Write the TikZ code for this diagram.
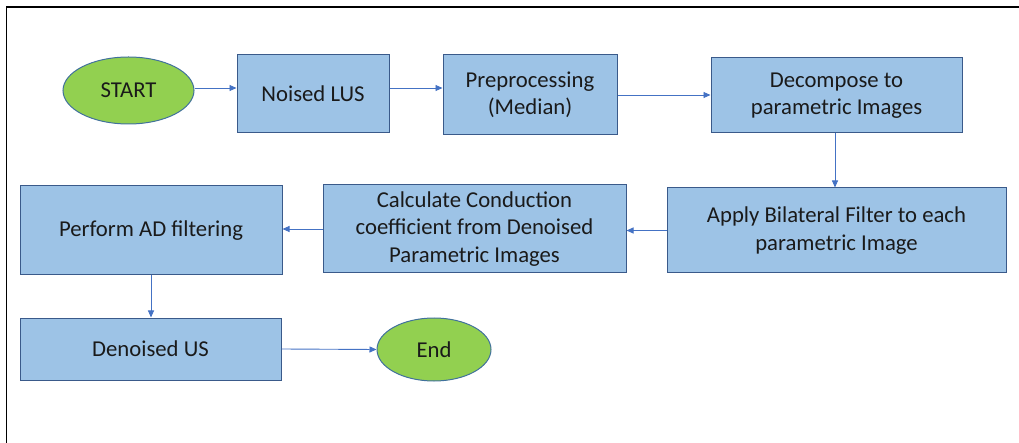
\documentclass[tikz,border=0pt]{standalone}
\usepackage{fontspec}
\setmainfont{Carlito}
\usetikzlibrary{arrows.meta,shapes.geometric}
\definecolor{boxfill}{HTML}{9DC3E6}
\definecolor{boxline}{HTML}{3A5A8A}
\definecolor{ovalfill}{HTML}{92D050}
\definecolor{ovalline}{HTML}{41719C}
\definecolor{arrowc}{HTML}{4472C4}
\definecolor{txt}{HTML}{1A1A1A}
\tikzset{
  stepbox/.style={draw=boxline, line width=1pt, fill=boxfill, rectangle, inner sep=0pt, align=center, text=txt,
    font=\fontsize{22.7}{27.5}\selectfont},
  oval/.style={draw=ovalline, line width=1pt, fill=ovalfill, ellipse, inner sep=0pt, text=txt,
    font=\fontsize{22.7}{27.5}\selectfont},
  arr/.style={draw=arrowc, line width=0.9pt, -{Triangle[length=7pt,width=6pt]}}
}
\begin{document}
\begin{tikzpicture}[x=1pt,y=-1pt]
\useasboundingbox (0,0) rectangle (1019,443);
\draw[black, line width=1.6pt] (6.5,443) -- (6.5,7) -- (1019,7);

\node[oval, minimum width=131pt, minimum height=67pt] (start) at (128.5,90.5) {START};
\node[stepbox, minimum width=152pt, minimum height=78pt] (noised) at (313,94) {Noised LUS};
\node[stepbox, minimum width=174pt, minimum height=80pt] (pre) at (530,95) {Preprocessing\\(Median)};
\node[stepbox, minimum width=251pt, minimum height=75pt] (dec) at (836.5,95.5) {Decompose to\\parametric Images};
\node[stepbox, minimum width=339pt, minimum height=85pt] (bil) at (836.5,230.5) {Apply Bilateral Filter to each\\parametric Image};
\node[stepbox, minimum width=303pt, minimum height=88pt] (calc) at (474.5,229) {Calculate Conduction\\coefficient from Denoised\\Parametric Images};
\node[stepbox, minimum width=262pt, minimum height=89pt] (perf) at (151,230.5) {Perform AD filtering};
\node[stepbox, minimum width=261pt, minimum height=62pt] (den) at (150.5,349) {Denoised US};
\node[oval, minimum width=114pt, minimum height=63pt] (end) at (434,349.5) {End};

\draw[arr] ([yshift=2.5pt]start.east) -- ([yshift=2.5pt]start.east -| noised.west);
\draw[arr] ([yshift=6pt]noised.east) -- ([yshift=6pt]noised.east -| pre.west);
\draw[arr] (pre.east) -- (pre.east -| dec.west);
\draw[arr] ([xshift=-1.5pt]dec.south) -- ([xshift=-1.5pt]dec.south |- bil.north);
\draw[arr] (bil.west) -- (bil.west -| calc.east);
\draw[arr] (calc.west) -- (calc.west -| perf.east);
\draw[arr] (perf.south) -- (perf.south |- den.north);
\draw[arr] (den.east) -- (end.west);
\end{tikzpicture}
\end{document}
